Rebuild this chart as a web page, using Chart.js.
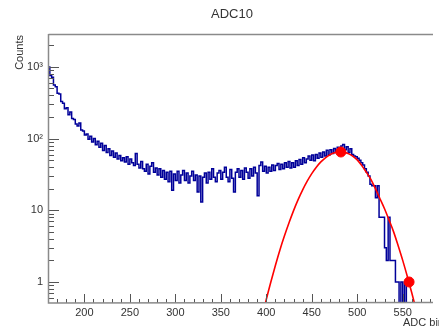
<!DOCTYPE html>
<html>
<head>
<meta charset="utf-8">
<title>ADC10</title>
<script src="https://cdn.jsdelivr.net/npm/chart.js@4.4.1/dist/chart.umd.min.js"></script>
<style>
  html, body { margin: 0; padding: 0; background: #fff; }
  canvas { display: block; }
</style>
</head>
<body>
<canvas id="adc" width="439" height="329"></canvas>
<script>
// histogram: ADC counts, bins of 2 starting at 160
const binStart = 160;
const binWidth = 2;
const counts = [
  1250, 1000, 760, 720, 560, 530, 430, 420, 330, 310, 260, 270, 215, 235, 190, 185, 160, 150, 165, 132,
  128, 112, 116, 98, 108, 90, 100, 82, 92, 76, 86, 68, 80, 64, 72, 58, 67, 55, 63, 52,
  58, 49, 54, 47, 56, 44, 52, 46, 42, 62, 44, 39, 48, 38, 35, 44, 32, 41, 46, 34,
  39, 31, 38, 29, 36, 27, 34, 25, 35, 19, 32, 26, 35, 24, 31, 36, 26, 33, 24, 30,
  35, 26, 31, 18, 30, 13, 29, 33, 24, 34, 27, 38, 29, 25, 33, 36, 27, 34, 40, 29,
  25, 37, 28, 18, 34, 38, 29, 36, 27, 39, 34, 28, 38, 30, 40, 33, 16, 42, 47, 35,
  41, 33, 40, 35, 43, 36, 42, 45, 37, 44, 38, 46, 40, 48, 39, 46, 40, 49, 42, 51,
  44, 54, 46, 52, 57, 50, 59, 49, 60, 53, 63, 55, 65, 57, 69, 59, 70, 62, 73, 64,
  76, 66, 79, 83, 70, 77, 64, 72, 60, 57, 56, 53, 50, 46, 43, 38, 34, 30, 23, 22,
  22, 15, 22, 8, 8, 8, 3, 2, 8, 2, 2, 2, 1, 1, 0.1, 1, 0.1, 1, 0.1, 0.1
];

// gaussian fit curve
const fitX = [395, 400, 405, 410, 415, 420, 425, 430, 435, 440, 445, 450, 455, 460, 465, 470, 475, 480,
              485, 490, 495, 500, 505, 510, 515, 520, 525, 530, 535, 540, 545, 550, 555, 560, 565];
const fitY = [0.31, 0.57, 1.0, 1.7, 2.8, 4.4, 6.7, 9.9, 14.1, 19.3, 25.5, 32.5, 39.9, 47.3, 54.0, 59.6, 63.3, 65.0,
              64.8, 62.0, 57.0, 50.5, 42, 34, 27, 20, 14.5, 10.5, 7.3, 5.0, 3.2, 2.0, 1.2, 0.7, 0.4];

// fit range markers
const markerX = [482, 557];
const markerY = [65, 1.0];

const xTicks = [200, 250, 300, 350, 400, 450, 500, 550];
const yTicks = [1, 10, 100, 1000];
const yTickLabels = ['1', '10', '10\u00B2', '10\u00B3'];

const FONT = '"Liberation Sans", Arial, sans-serif';
const AXIS_COLOR = '#8a8a8a';
const TICK_COLOR = '#555';

// ROOT style frame, inward ticks and texts
const rootFrame = {
  id: 'rootFrame',
  afterDraw(chart) {
    const { ctx, chartArea: a, scales } = chart;
    const x = scales.x, y = scales.y;
    ctx.save();

    // ticks
    ctx.strokeStyle = TICK_COLOR;
    ctx.lineWidth = 1;
    ctx.beginPath();
    for (let v = 160; v <= x.max; v += 10) {
      const px = Math.round(x.getPixelForValue(v)) + 0.5;
      const len = v % 50 === 0 ? 9 : 4;
      ctx.moveTo(px, a.bottom);
      ctx.lineTo(px, a.bottom - len);
    }
    for (let d = -1; d <= 3; d++) {
      for (let m = 1; m <= 9; m++) {
        const v = m * Math.pow(10, d);
        if (v < y.min || v > y.max) continue;
        const py = Math.round(y.getPixelForValue(v)) + 0.5;
        const len = m === 1 ? 11 : 6;
        ctx.moveTo(a.left, py);
        ctx.lineTo(a.left + len, py);
      }
    }
    ctx.stroke();

    // frame
    ctx.strokeStyle = AXIS_COLOR;
    ctx.lineWidth = 1.5;
    ctx.beginPath();
    ctx.moveTo(a.left + 0.5, a.top + 0.5);
    ctx.lineTo(a.right, a.top + 0.5);
    ctx.moveTo(a.left + 0.5, a.top);
    ctx.lineTo(a.left + 0.5, a.bottom);
    ctx.lineTo(a.right, a.bottom - 0.5);
    ctx.stroke();

    // texts
    ctx.fillStyle = '#333';
    ctx.font = '13px ' + FONT;
    ctx.textAlign = 'center';
    ctx.textBaseline = 'middle';
    ctx.fillText('ADC10', 232, 14);

    ctx.font = '11px ' + FONT;
    ctx.textAlign = 'left';
    ctx.fillText('ADC bin', 403, 323);

    ctx.translate(20, 35);
    ctx.rotate(-Math.PI / 2);
    ctx.textAlign = 'right';
    ctx.fillText('Counts', 0, 0);
    ctx.restore();
  }
};

const histData = counts.map((c, i) => ({ x: binStart + i * binWidth, y: c }));
const fitData = fitX.map((v, i) => ({ x: v, y: fitY[i] }));
const markerData = markerX.map((v, i) => ({ x: v, y: markerY[i] }));

new Chart(document.getElementById('adc'), {
  type: 'line',
  data: {
    datasets: [{
      data: histData,
      borderColor: '#000099',
      borderWidth: 1.5,
      stepped: 'after',
      pointRadius: 0,
      fill: false,
      order: 3
    }, {
      data: fitData,
      borderColor: '#ff0000',
      borderWidth: 1.6,
      tension: 0.4,
      cubicInterpolationMode: 'monotone',
      pointRadius: 0,
      fill: false,
      order: 2
    }, {
      data: markerData,
      showLine: false,
      pointRadius: 5,
      pointBackgroundColor: '#ff0000',
      pointBorderColor: '#ff0000',
      order: 1
    }]
  },
  options: {
    responsive: false,
    animation: false,
    events: [],
    layout: { padding: { top: 34, right: 0, left: 0, bottom: 0 } },
    plugins: {
      legend: { display: false },
      tooltip: { enabled: false },
      title: { display: false }
    },
    scales: {
      x: {
        type: 'linear',
        min: 160,
        max: 583.3,
        grid: { display: false, drawTicks: false },
        border: { display: false },
        afterBuildTicks: (s) => { s.ticks = xTicks.map(v => ({ value: v })); },
        afterFit: (s) => { s.height = 26; },
        ticks: {
          color: '#333',
          font: { family: FONT, size: 11 },
          padding: 3,
          maxRotation: 0,
          autoSkip: false
        }
      },
      y: {
        type: 'logarithmic',
        min: 0.509,
        max: 2878,
        grid: { display: false, drawTicks: false },
        border: { display: false },
        afterBuildTicks: (s) => { s.ticks = yTicks.map(v => ({ value: v })); },
        afterFit: (s) => { s.width = 48; },
        ticks: {
          color: '#333',
          font: { family: FONT, size: 11 },
          padding: 5,
          autoSkip: false,
          callback: (v) => yTickLabels[yTicks.indexOf(v)]
        }
      }
    }
  },
  plugins: [rootFrame]
});
</script>
</body>
</html>
